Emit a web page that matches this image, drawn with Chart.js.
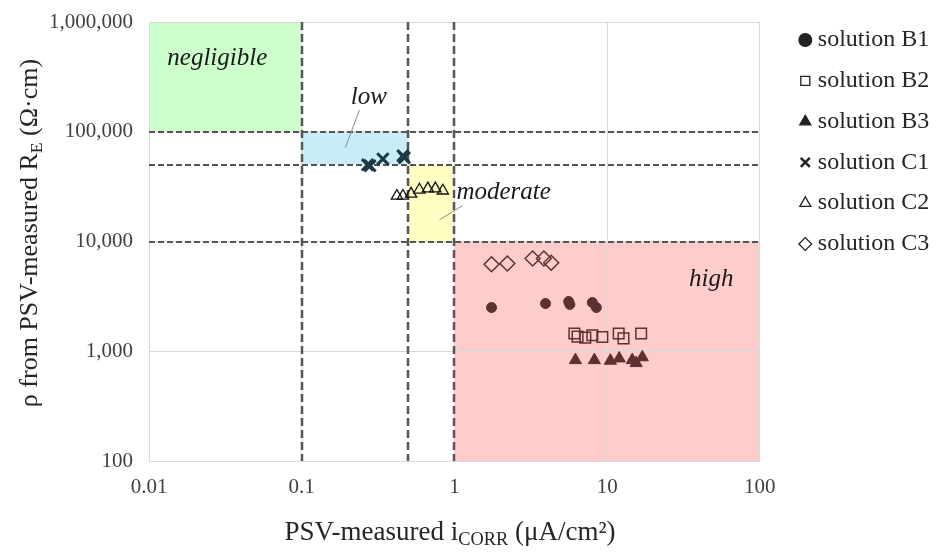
<!DOCTYPE html>
<html>
<head>
<meta charset="utf-8">
<script src="https://cdn.jsdelivr.net/npm/chart.js@4.4.0/dist/chart.umd.min.js"></script>
<style>
  html, body { margin: 0; padding: 0; background: #fff; }
  #wrap { width: 937px; height: 552px; }
</style>
</head>
<body>
<div id="wrap"><canvas id="chart"></canvas></div>
<script>
"use strict";
// data (x: iCORR uA/cm2, y: rho ohm.cm)
const seriesNames = ["solution B1", "solution B2", "solution B3", "solution C1", "solution C2", "solution C3"];
const b1X = [1.75, 3.95, 5.6, 5.7, 8.0, 8.5];
const b1Y = [2500, 2720, 2840, 2670, 2780, 2500];
const b2X = [6.1, 6.4, 7.2, 8.0, 9.3, 11.9, 12.8, 16.7];
const b2Y = [1450, 1360, 1330, 1400, 1350, 1450, 1310, 1450];
const b3X = [6.2, 8.25, 10.5, 12.0, 14.6, 15.5, 17.0];
const b3Y = [830, 830, 820, 860, 830, 780, 880];
const c1X = [0.27, 0.28, 0.34, 0.46, 0.47];
const c1Y = [50000, 49000, 56500, 60500, 58000];
const c2X = [0.42, 0.46, 0.52, 0.59, 0.67, 0.75, 0.84];
const c2Y = [26000, 26000, 27200, 29600, 30300, 30300, 29000];
const c3X = [1.75, 2.22, 3.25, 3.85, 4.3];
const c3Y = [6200, 6300, 7000, 7000, 6400];

const xTicks = [0.01, 0.1, 1, 10, 100];
const yTicks = [100, 1000, 10000, 100000, 1000000];

// corrosion zones and boundary lines
const zoneNames = ["negligible", "low", "moderate", "high"];
const zoneX = [[0.01, 0.1], [0.1, 0.5], [0.5, 1], [1, 100]];
const zoneY = [[100000, 1000000], [50000, 100000], [10000, 50000], [100, 10000]];
const zoneColors = ["#ccffcc", "#c9ecf9", "#ffffc4", "#ffcccc"];
const zoneLabelAt = [[0.028, 470000], [0.275, 205000], [2.1, 27800], [48, 4500]];
const leaderLines = [[[0.239, 158000], [0.193, 71500]], [[1.13, 21200], [0.80, 15800]]];
const xBounds = [0.1, 0.5, 1];
const yBounds = [10000, 50000, 100000];

const red = "#5e3131";
const serif = "'Liberation Serif', 'Times New Roman', serif";

function pts(xs, ys) {
  return xs.map((x, i) => ({ x: x, y: ys[i] }));
}

const datasets = [
  { label: seriesNames[0], data: pts(b1X, b1Y), pointStyle: "circle", pointRadius: 5, backgroundColor: red, borderColor: red, borderWidth: 1 },
  { label: seriesNames[1], data: pts(b2X, b2Y), pointStyle: "rect", pointRadius: 7.5, backgroundColor: "rgba(0,0,0,0)", borderColor: red, borderWidth: 1.5 },
  { label: seriesNames[2], data: pts(b3X, b3Y), pointStyle: "triangle", pointRadius: 7, backgroundColor: red, borderColor: red, borderWidth: 1 },
  { label: seriesNames[3], data: pts(c1X, c1Y), pointStyle: "crossRot", pointRadius: 8, backgroundColor: "#1d3a44", borderColor: "#1d3a44", borderWidth: 3 },
  { label: seriesNames[4], data: pts(c2X, c2Y), pointStyle: "triangle", pointRadius: 6.5, backgroundColor: "rgba(0,0,0,0)", borderColor: "#111", borderWidth: 1.3 },
  { label: seriesNames[5], data: pts(c3X, c3Y), pointStyle: "rectRot", pointRadius: 7.5, backgroundColor: "rgba(0,0,0,0)", borderColor: red, borderWidth: 1.5 },
];

function drawRich(ctx, parts, cx, cy, size) {
  let total = 0;
  parts.forEach((p) => {
    ctx.font = (p[1] ? size * 0.68 : size) + "px " + serif;
    total += ctx.measureText(p[0]).width;
  });
  let x = cx - total / 2;
  parts.forEach((p) => {
    ctx.font = (p[1] ? size * 0.68 : size) + "px " + serif;
    ctx.fillText(p[0], x, p[1] ? cy + size * 0.28 : cy);
    x += ctx.measureText(p[0]).width;
  });
}

const zonesPlugin = {
  id: "zones",
  afterLayout(chart) {
    // legend sits a little higher and further right than the default box
    const lg = chart.legend;
    const w = lg.width, h = lg.height;
    lg.left = 788;
    lg.right = lg.left + w;
    lg.top = 11.2;
    lg.bottom = lg.top + h;
  },
  beforeDraw(chart) {
    const { ctx, scales: { x, y } } = chart;
    ctx.save();
    zoneX.forEach((zx, i) => {
      const x0 = x.getPixelForValue(zx[0]), x1 = x.getPixelForValue(zx[1]);
      const y0 = y.getPixelForValue(zoneY[i][1]), y1 = y.getPixelForValue(zoneY[i][0]);
      ctx.fillStyle = zoneColors[i];
      ctx.fillRect(x0, y0, x1 - x0, y1 - y0);
    });
    ctx.restore();
  },
  beforeDatasetsDraw(chart) {
    const { ctx, chartArea: a, scales: { x, y } } = chart;
    ctx.save();
    ctx.strokeStyle = "#555";
    ctx.lineWidth = 2.5;
    ctx.setLineDash([8, 4]);
    xBounds.forEach((v) => {
      const px = Math.round(x.getPixelForValue(v));
      ctx.beginPath();
      ctx.moveTo(px, a.top);
      ctx.lineTo(px, a.bottom);
      ctx.stroke();
    });
    ctx.lineWidth = 2;
    ctx.setLineDash([6, 3]);
    yBounds.forEach((v) => {
      const py = Math.round(y.getPixelForValue(v));
      ctx.beginPath();
      ctx.moveTo(a.left, py);
      ctx.lineTo(a.right, py);
      ctx.stroke();
    });
    ctx.setLineDash([]);
    ctx.strokeStyle = "#8c8c8c";
    ctx.lineWidth = 1;
    leaderLines.forEach((l) => {
      ctx.beginPath();
      ctx.moveTo(x.getPixelForValue(l[0][0]), y.getPixelForValue(l[0][1]));
      ctx.lineTo(x.getPixelForValue(l[1][0]), y.getPixelForValue(l[1][1]));
      ctx.stroke();
    });
    ctx.fillStyle = "#1a1a1a";
    ctx.font = "italic 25px " + serif;
    ctx.textAlign = "center";
    ctx.textBaseline = "middle";
    zoneNames.forEach((n, i) => {
      ctx.fillText(n, x.getPixelForValue(zoneLabelAt[i][0]), y.getPixelForValue(zoneLabelAt[i][1]));
    });
    ctx.restore();
  },
  afterDraw(chart) {
    const { ctx } = chart;
    ctx.save();
    ctx.fillStyle = "#262626";
    ctx.textAlign = "left";
    ctx.textBaseline = "middle";
    drawRich(ctx, [["PSV-measured i", false], ["CORR", true], [" (\u03bcA/cm\u00b2)", false]], 450, 533, 27);
    ctx.translate(30, 233);
    ctx.rotate(-Math.PI / 2);
    drawRich(ctx, [["\u03c1 from PSV-measured R", false], ["E", true], [" (\u03a9\u00b7cm)", false]], 0, 0, 26);
    ctx.restore();
  },
};

new Chart(document.getElementById("chart"), {
  type: "scatter",
  data: { datasets: datasets },
  options: {
    responsive: true,
    maintainAspectRatio: false,
    animation: false,
    layout: { padding: { top: 22, right: 26, bottom: 0, left: 0 } },
    plugins: {
      tooltip: { enabled: false },
      legend: {
        position: "right",
        align: "start",
        labels: {
          usePointStyle: true,
          boxWidth: 1,
          boxHeight: 9,
          padding: 16.8,
          color: "#262626",
          font: { family: serif, size: 24 },
          generateLabels(chart) {
            return chart.data.datasets.map((d, i) => ({
              text: d.label,
              datasetIndex: i,
              pointStyle: d.pointStyle,
              fillStyle: d.backgroundColor === "rgba(0,0,0,0)" ? "#fff" : "#222",
              strokeStyle: "#222",
              lineWidth: d.pointStyle === "crossRot" ? 2.5 : 1.3,
              hidden: false,
              fontColor: "#262626",
            }));
          },
        },
      },
    },
    scales: {
      x: {
        type: "logarithmic",
        min: 0.01,
        max: 100,
        afterBuildTicks(s) { s.ticks = xTicks.map((v) => ({ value: v })); },
        afterFit(s) { s.height = 91; },
        ticks: {
          padding: 14,
          color: "#404040",
          font: { family: serif, size: 21 },
          callback: (v) => String(v),
        },
        grid: { color: "#d9d9d9", drawTicks: false },
        border: { color: "#d9d9d9" },
      },
      y: {
        type: "logarithmic",
        min: 100,
        max: 1000000,
        afterBuildTicks(s) { s.ticks = yTicks.map((v) => ({ value: v })); },
        afterFit(s) {
          s.width = 149;
          s.paddingTop = 0;
          s.paddingBottom = 0;
        },
        ticks: {
          padding: 16,
          color: "#404040",
          font: { family: serif, size: 21 },
          callback: (v) => Number(v).toLocaleString("en-US"),
        },
        grid: { color: "#d9d9d9", drawTicks: false },
        border: { color: "#d9d9d9" },
      },
    },
  },
  plugins: [zonesPlugin],
});
</script>
</body>
</html>
